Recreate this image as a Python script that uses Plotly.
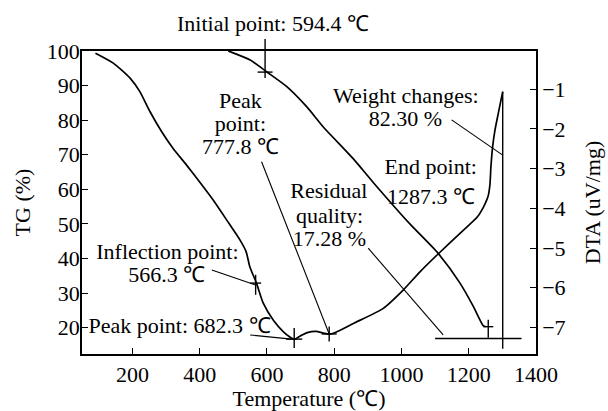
import plotly.graph_objects as go

# ---------------- data ----------------
# DTA curve (right axis, uV/mg)
dta_temp = [90, 143, 193, 222, 252, 287, 321, 361, 401, 440, 480, 520, 538, 549, 569, 589, 619, 649, 668, 681,
            700, 720, 746, 770, 785, 805, 857, 946, 1005, 1055, 1109, 1174, 1226, 1243, 1253, 1258, 1263, 1266,
            1271, 1278, 1288, 1301]
dta_val = [-0.09, -0.34, -0.72, -1.06, -1.56, -2.07, -2.49, -2.91, -3.35, -3.79, -4.29, -4.80, -5.09, -5.47,
           -5.89, -6.39, -6.82, -7.11, -7.24, -7.30, -7.21, -7.13, -7.10, -7.15, -7.17, -7.12, -6.90, -6.52,
           -6.06, -5.60, -5.15, -4.63, -4.21, -3.98, -3.80, -3.68, -3.40, -2.95, -2.45, -2.03, -1.60, -1.06]

# TG curve (left axis, %)
tg_temp = [485, 490, 550, 599, 659, 718, 767, 857, 916, 1025, 1109, 1174, 1214, 1243, 1250]
tg_val = [100, 99.8, 97.4, 94.0, 89.7, 83.9, 78.1, 68.8, 62.0, 50.0, 41.5, 32.9, 26.1, 20.6, 20.3]

# reference lines (TG units)
residual_x = [1100, 1357]
residual_y = [16.9, 16.9]
weight_x = [1301, 1301]
weight_y = [88.2, 13.9]

# pointer lines: (x0, y0, x1, y1) in TG units
pointers = [
    (584, 68.0, 785, 18.2),    # peak 777.8
    (901, 43.0, 1124, 17.9),   # residual quality
    (1149, 80.1, 1301, 69.9),  # weight changes
    (436, 36.7, 564, 32.4),    # inflection
    (550, 17.9, 673, 16.7),    # peak 682.3
]

# cross markers: x, y_vertical, y_horizontal, vertical length, horizontal length (px)
crosses = [
    (594.4, 97.8, 93.9, 39, 15),
    (566.3, 32.4, 32.9, 20, 11),
    (681, 17.0, 16.7, 20, 16),
    (785, 18.2, 18.2, 15, 15),
    (1258, 19.7, 20.3, 18, 10),
]

# annotation texts inside the plot: text, x, y (TG units)
labels = [
    ("Peak", 521, 85.2),
    ("point:", 521, 78.6),
    ("777.8 \u2103", 521, 71.7),
    ("Weight changes:", 1013, 86.7),
    ("82.30 %", 1012, 79.9),
    ("End point:", 1087, 66.0),
    ("1287.3 \u2103", 1088, 57.3),
    ("Residual", 784, 59.2),
    ("quality:", 786, 52.0),
    ("17.28 %", 786, 45.3),
    ("Inflection point:", 304, 41.4),
    ("566.3 \u2103", 302, 34.7),
    ("Peak point: 682.3 \u2103", 340, 20.2),
]
# title-like label above the plot: text, x (temperature)
initial_label = ("Initial point: 594.4 \u2103", 618)

x_ticks = [200, 400, 600, 800, 1000, 1200, 1400]
tg_ticks = [20, 30, 40, 50, 60, 70, 80, 90, 100]
dta_ticks = [-1, -2, -3, -4, -5, -6, -7]

FONT = "Liberation Serif"
FS = 22

fig = go.Figure()

fig.add_trace(go.Scatter(x=dta_temp, y=dta_val, yaxis="y2", mode="lines",
                         line=dict(color="black", width=1.7, shape="spline", smoothing=0.6),
                         showlegend=False, hoverinfo="skip"))
fig.add_trace(go.Scatter(x=tg_temp, y=tg_val, mode="lines",
                         line=dict(color="black", width=1.7, shape="spline", smoothing=0.6),
                         showlegend=False, hoverinfo="skip"))

fig.add_trace(go.Scatter(x=residual_x, y=residual_y, mode="lines",
                         line=dict(color="black", width=1.4), showlegend=False, hoverinfo="skip"))
fig.add_trace(go.Scatter(x=weight_x, y=weight_y, mode="lines",
                         line=dict(color="black", width=1.4), showlegend=False, hoverinfo="skip"))

for x0, y0, x1, y1 in pointers:
    fig.add_trace(go.Scatter(x=[x0, x1], y=[y0, y1], mode="lines",
                             line=dict(color="black", width=1.1), showlegend=False, hoverinfo="skip"))

for cx, cyv, cyh, lv, lh in crosses:
    fig.add_trace(go.Scatter(x=[cx], y=[cyv], mode="markers", cliponaxis=False,
                             marker=dict(symbol="line-ns", size=lv / 1.4,
                                         line=dict(color="black", width=1.4)),
                             showlegend=False, hoverinfo="skip"))
    fig.add_trace(go.Scatter(x=[cx], y=[cyh], mode="markers", cliponaxis=False,
                             marker=dict(symbol="line-ew", size=lh / 1.4,
                                         line=dict(color="black", width=1.4)),
                             showlegend=False, hoverinfo="skip"))

fig.add_trace(go.Scatter(x=[l[1] for l in labels], y=[l[2] for l in labels],
                         text=[l[0] for l in labels], mode="text", textposition="middle center",
                         cliponaxis=False, textfont=dict(family=FONT, size=FS, color="black"),
                         showlegend=False, hoverinfo="skip"))

fig.add_annotation(x=initial_label[1], y=1.09, xref="x", yref="paper", text=initial_label[0],
                   showarrow=False, xanchor="center", yanchor="middle",
                   font=dict(family=FONT, size=FS, color="black"))

fig.update_layout(
    width=608, height=411,
    margin=dict(l=82, r=72, t=51, b=57),
    paper_bgcolor="white", plot_bgcolor="white",
    font=dict(family=FONT, size=FS, color="black"),
    xaxis=dict(range=[50, 1400], tickvals=x_ticks, ticks="inside", ticklen=6,
               tickcolor="black", showline=True, linecolor="black", linewidth=1.5,
               mirror=True, showgrid=False, zeroline=False, automargin=False,
               ticklabelstandoff=0,
               title=dict(text="Temperature (\u2103)", standoff=10,
                          font=dict(family=FONT, size=FS))),
    yaxis=dict(range=[12.4, 100], tickvals=tg_ticks, ticks="inside", ticklen=6,
               tickcolor="black", showline=True, linecolor="black", linewidth=1.5,
               showgrid=False, zeroline=False, automargin=False, ticklabelstandoff=-4,
               title=dict(text="TG (%)", standoff=10, font=dict(family=FONT, size=FS))),
    yaxis2=dict(range=[-7.67, -0.035], tickvals=dta_ticks, ticks="inside", ticklen=6,
                tickcolor="black", showline=True, linecolor="black", linewidth=1.5,
                overlaying="y", side="right", showgrid=False, zeroline=False, automargin=False,
                title=dict(text="DTA (uV/mg)", standoff=20, font=dict(family=FONT, size=FS))),
)

fig.write_html("out.html")
